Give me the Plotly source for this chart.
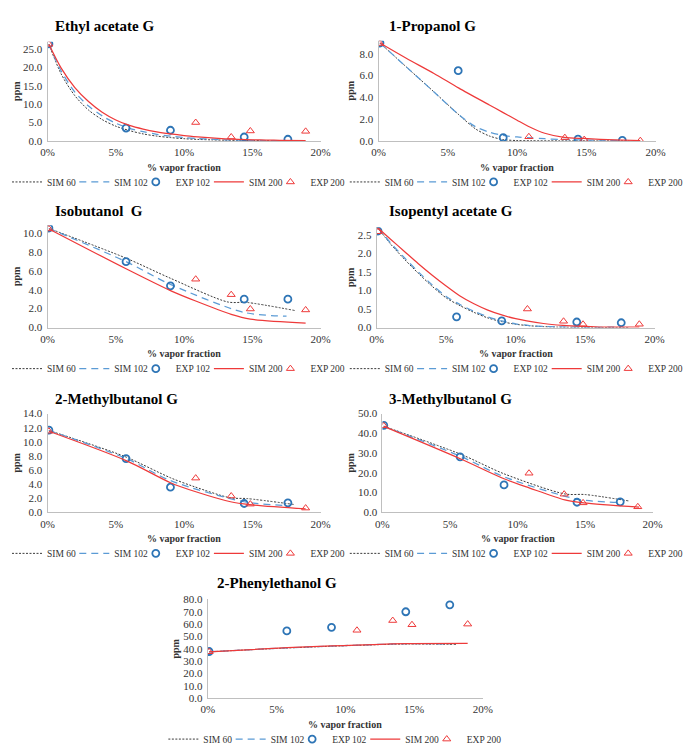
import plotly.graph_objects as go

W, H = 688, 754
FONT = "Liberation Serif"

# ---------------- data ----------------
X_TICKS = [0, 5, 10, 15, 20]
X_TICK_TEXT = ["0%", "5%", "10%", "15%", "20%"]
SERIES_NAMES = ["SIM 60", "SIM 102", "EXP 102", "SIM 200", "EXP 200"]

EXP102_X = [0.1, 5.75, 9.0, 14.4, 17.6]
EXP200_X = [0.1, 10.85, 13.45, 14.85, 18.9]

# Ethyl acetate G
EA_SIM60_X = [0.1, 1, 2, 3, 4, 5, 6, 7, 8, 9, 10, 11, 12, 13, 14, 15, 16, 18.1]
EA_SIM60_Y = [26.3, 18.2, 12.3, 8.4, 5.8, 4.0, 2.8, 1.9, 1.3, 0.9, 0.6, 0.4, 0.28, 0.2, 0.13, 0.09, 0.06, 0.03]
EA_SIM102_X = [0.1, 1, 2, 3, 4, 5, 6, 7, 8, 9, 10, 11, 12, 13, 14, 15, 16, 17.6]
EA_SIM102_Y = [26.3, 19.0, 13.3, 9.5, 6.8, 4.8, 3.4, 2.5, 1.8, 1.3, 0.9, 0.65, 0.45, 0.3, 0.2, 0.15, 0.1, 0.06]
EA_SIM200_X = [0.1, 1, 2, 3, 4, 5, 6, 7, 8, 9, 10, 11, 12, 13, 14, 15, 16, 17, 18.9]
EA_SIM200_Y = [26.3, 19.8, 14.5, 10.7, 7.8, 5.7, 4.2, 3.2, 2.45, 1.9, 1.45, 1.1, 0.8, 0.58, 0.42, 0.3, 0.22, 0.17, 0.1]
EA_EXP102_Y = [26.4, 3.5, 2.9, 1.06, 0.44]
EA_EXP200_Y = [26.3, 5.0, 1.06, 2.7, 2.6]

# 1-Propanol G
PR_SIM60_X = [0.1, 2, 4, 5.8, 7, 8, 9, 10, 11, 13, 15, 18.1]
PR_SIM60_Y = [9.0, 6.8, 4.5, 2.4, 1.1, 0.45, 0.12, 0.03, 0.01, 0.0, 0.0, 0.0]
PR_SIM102_X = [0.1, 2, 4, 5.8, 7, 8, 9, 10, 11, 12, 13, 14.4, 16, 17.6]
PR_SIM102_Y = [9.0, 6.8, 4.5, 2.4, 1.3, 0.8, 0.5, 0.36, 0.28, 0.2, 0.14, 0.1, 0.06, 0.04]
PR_SIM200_X = [0.1, 2, 4, 5.8, 8, 9, 10, 10.8, 12, 13.4, 14.8, 16, 17, 18.9]
PR_SIM200_Y = [9.0, 7.6, 6.2, 4.85, 3.3, 2.6, 1.9, 1.35, 0.7, 0.32, 0.22, 0.15, 0.1, 0.03]
PR_EXP102_Y = [9.0, 6.45, 0.3, 0.17, 0.04]
PR_EXP200_Y = [8.95, 0.38, 0.3, 0.12, 0.02]

# Isobutanol G
IB_SIM60_X = [0.1, 5.7, 9.0, 13.2, 14.6, 18.1]
IB_SIM60_Y = [10.45, 7.35, 5.2, 2.7, 2.65, 1.8]
IB_SIM102_X = [0.1, 5.75, 9.0, 14.4, 17.5]
IB_SIM102_Y = [10.45, 6.95, 4.55, 1.6, 1.2]
IB_SIM200_X = [0.1, 5.75, 9.0, 10.85, 13.45, 14.85, 18.9]
IB_SIM200_Y = [10.4, 6.2, 3.9, 2.8, 1.4, 0.9, 0.48]
IB_EXP102_Y = [10.5, 6.95, 4.4, 3.0, 3.0]
IB_EXP200_Y = [10.4, 5.1, 3.47, 1.96, 1.86]

# Isopentyl acetate G
IP_SIM60_X = [0.1, 1, 2, 3, 4, 5, 6, 7, 8, 9, 10, 11, 12, 13, 15, 18.1]
IP_SIM60_Y = [2.68, 2.25, 1.84, 1.46, 1.11, 0.8, 0.59, 0.41, 0.26, 0.16, 0.09, 0.05, 0.025, 0.012, 0.005, 0.0]
IP_SIM102_X = [0.1, 1, 2, 3, 4, 5, 6, 7, 8, 9, 10, 11, 12, 13, 14.4, 17.6]
IP_SIM102_Y = [2.68, 2.28, 1.88, 1.5, 1.15, 0.84, 0.62, 0.44, 0.29, 0.18, 0.1, 0.055, 0.03, 0.02, 0.01, 0.01]
IP_SIM200_X = [0.1, 1, 2, 3, 4, 5, 6, 7, 8, 9, 10, 10.8, 12, 13.4, 14.8, 16, 18.9]
IP_SIM200_Y = [2.68, 2.38, 2.05, 1.72, 1.41, 1.12, 0.85, 0.64, 0.47, 0.34, 0.24, 0.18, 0.11, 0.06, 0.03, 0.015, 0.01]
IP_EXP102_Y = [2.6, 0.29, 0.18, 0.15, 0.13]
IP_EXP200_Y = [2.58, 0.5, 0.17, 0.09, 0.09]

# 2-Methylbutanol G
MB2_SIM60_X = [0.1, 3, 5.8, 9.0, 10.8, 13.4, 14.6, 18.1]
MB2_SIM60_Y = [11.6, 9.75, 7.8, 4.9, 3.6, 2.05, 1.95, 1.1]
MB2_SIM102_X = [0.1, 5.8, 9.0, 14.4, 17.5]
MB2_SIM102_Y = [11.6, 7.6, 4.5, 1.5, 0.95]
MB2_SIM200_X = [0.1, 5.8, 9.0, 10.8, 13.4, 14.8, 18.9]
MB2_SIM200_Y = [11.5, 7.3, 4.2, 2.95, 1.5, 1.1, 0.5]
MB2_EXP102_Y = [11.65, 7.62, 3.56, 1.25, 1.34]
MB2_EXP200_Y = [11.5, 4.85, 2.31, 1.16, 0.6]

# 3-Methylbutanol G
MB3_SIM60_X = [0.1, 5.8, 9.0, 13.5, 15.0, 18.2]
MB3_SIM60_Y = [43.6, 29.4, 19.5, 9.3, 9.0, 5.8]
MB3_SIM102_X = [0.1, 5.8, 9.0, 14.5, 17.6]
MB3_SIM102_Y = [43.6, 28.3, 18.0, 6.6, 5.0]
MB3_SIM200_X = [0.1, 5.8, 9.0, 10.9, 13.5, 14.9, 19.0]
MB3_SIM200_Y = [43.5, 27.0, 17.0, 12.3, 6.3, 4.8, 2.6]
MB3_EXP102_Y = [44.0, 28.1, 13.9, 5.1, 5.3]
MB3_EXP200_Y = [43.8, 19.8, 9.2, 4.8, 2.8]

# 2-Phenylethanol G
PE_SIM60_X = [0.1, 5.8, 9.0, 13.4, 14.6, 18.1]
PE_SIM60_Y = [37.5, 40.6, 42.0, 43.6, 43.8, 43.5]
PE_SIM102_X = [0.1, 5.8, 9.0, 14.4, 17.6]
PE_SIM102_Y = [37.5, 40.7, 42.1, 44.0, 43.9]
PE_SIM200_X = [0.1, 5.8, 9.0, 10.8, 13.4, 14.8, 18.9]
PE_SIM200_Y = [37.5, 40.8, 42.2, 42.8, 43.8, 44.1, 44.3]
PE_EXP102_Y = [37.7, 54.4, 57.3, 69.9, 75.5]
PE_EXP200_Y = [37.5, 54.9, 62.8, 59.4, 59.9]

TITLES = ["Ethyl acetate G", "1-Propanol G", "Isobutanol  G", "Isopentyl acetate G",
          "2-Methylbutanol G", "3-Methylbutanol G", "2-Phenylethanol G"]
Y_MAX = [27, 9.2, 10.8, 2.7, 14, 50, 80]
Y_DTICK = [5, 2, 2, 0.5, 2, 10, 10]

DATA = [
    (EA_SIM60_X, EA_SIM60_Y, EA_SIM102_X, EA_SIM102_Y, EA_EXP102_Y, EA_SIM200_X, EA_SIM200_Y, EA_EXP200_Y),
    (PR_SIM60_X, PR_SIM60_Y, PR_SIM102_X, PR_SIM102_Y, PR_EXP102_Y, PR_SIM200_X, PR_SIM200_Y, PR_EXP200_Y),
    (IB_SIM60_X, IB_SIM60_Y, IB_SIM102_X, IB_SIM102_Y, IB_EXP102_Y, IB_SIM200_X, IB_SIM200_Y, IB_EXP200_Y),
    (IP_SIM60_X, IP_SIM60_Y, IP_SIM102_X, IP_SIM102_Y, IP_EXP102_Y, IP_SIM200_X, IP_SIM200_Y, IP_EXP200_Y),
    (MB2_SIM60_X, MB2_SIM60_Y, MB2_SIM102_X, MB2_SIM102_Y, MB2_EXP102_Y, MB2_SIM200_X, MB2_SIM200_Y, MB2_EXP200_Y),
    (MB3_SIM60_X, MB3_SIM60_Y, MB3_SIM102_X, MB3_SIM102_Y, MB3_EXP102_Y, MB3_SIM200_X, MB3_SIM200_Y, MB3_EXP200_Y),
    (PE_SIM60_X, PE_SIM60_Y, PE_SIM102_X, PE_SIM102_Y, PE_EXP102_Y, PE_SIM200_X, PE_SIM200_Y, PE_EXP200_Y),
]

# ---------------- layout geometry (pixels) ----------------
# (plot left, plot right, plot top, plot bottom, title x, ppm x, legend origin x)
GEOM = [
    (42, 325, 36.5, 138, 48, 10, 0),
    (385, 672, 35.6, 138, 394, 356, 350),
    (42, 325, 224.2, 329, 48, 10, 0),
    (383, 671, 226.4, 329, 394, 356, 350),
    (42, 325, 417, 518, 48, 10, 0),
    (389, 669, 417, 518, 394, 356, 350),
    (208, 493, 607, 708, 215, 175, 162),
]
TITLE_Y = [20, 20, 210, 210, 402, 402, 590]

C_SIM60 = "#3a3a3a"
C_SIM102 = "#5B9BD5"
C_EXP102 = "#2E75B6"
C_RED = "#EE3A3A"
LEGEND_W = [22.3, 16.5, 28.1, 16.5, 34.6]
LEGEND_FONT = 9.5


def px_x(v):
    return v / W


def px_y(v):
    return 1 - v / H


fig = go.Figure()
annotations = []
layout = dict(width=W, height=H, margin=dict(l=0, r=0, t=0, b=0),
              paper_bgcolor="white", plot_bgcolor="white",
              font=dict(family=FONT, size=11, color="#333333"))

for i in range(7):
    s60x, s60y, s102x, s102y, e102y, s200x, s200y, e200y = DATA[i]
    L, R, T, B, tx, ppx, lgx = GEOM[i]
    n = "" if i == 0 else str(i + 1)
    xa, ya = "x" + n, "y" + n
    lid = "legend" + n
    common = dict(xaxis=xa, yaxis=ya, legend=lid, showlegend=True)
    fig.add_trace(go.Scatter(x=s60x, y=s60y, mode="lines", name=SERIES_NAMES[0],
                             line=dict(color=C_SIM60, width=1, dash="2px,1.5px", shape="spline", smoothing=0.8),
                             legendwidth=LEGEND_W[0], **common))
    fig.add_trace(go.Scatter(x=s102x, y=s102y, mode="lines", name=SERIES_NAMES[1],
                             line=dict(color=C_SIM102, width=1.25, dash="7px,5px", shape="spline", smoothing=0.8),
                             legendwidth=LEGEND_W[1], **common))
    fig.add_trace(go.Scatter(x=EXP102_X, y=e102y, mode="markers", name=SERIES_NAMES[2],
                             marker=dict(symbol="circle-open", size=7, color=C_EXP102, line=dict(width=1.8)),
                             legendwidth=LEGEND_W[2], **common))
    fig.add_trace(go.Scatter(x=s200x, y=s200y, mode="lines", name=SERIES_NAMES[3],
                             line=dict(color=C_RED, width=1.25, shape="spline", smoothing=0.8),
                             legendwidth=LEGEND_W[3], **common))
    fig.add_trace(go.Scatter(x=EXP200_X, y=e200y, mode="markers", name=SERIES_NAMES[4],
                             marker=dict(symbol="triangle-up-open", size=7, color=C_RED, line=dict(width=1)),
                             legendwidth=LEGEND_W[4], **common))

    layout["xaxis" + n] = dict(domain=[px_x(L), px_x(R)], anchor=ya, range=[0, 20],
                               tickvals=X_TICKS, ticktext=X_TICK_TEXT,
                               showline=True, linecolor="#BFBFBF", linewidth=1,
                               showgrid=False, zeroline=False, ticks="outside", ticklen=1,
                               tickcolor="rgba(0,0,0,0)", tickfont=dict(size=11, family=FONT, color="#333333"),
                               fixedrange=True)
    layout["yaxis" + n] = dict(domain=[px_y(B), px_y(T)], anchor=xa, range=[0, Y_MAX[i]],
                               dtick=Y_DTICK[i], tick0=0, tickformat=".1f",
                               showline=True, linecolor="#BFBFBF", linewidth=1,
                               showgrid=False, zeroline=False, ticks="outside", ticklen=2,
                               tickcolor="rgba(0,0,0,0)", tickfont=dict(size=11, family=FONT, color="#333333"),
                               fixedrange=True)
    layout[lid] = dict(orientation="h", x=px_x(lgx), xanchor="left", y=px_y(B + 42), yanchor="middle",
                       font=dict(size=LEGEND_FONT, family=FONT, color="#333333"), bgcolor="rgba(0,0,0,0)",
                       borderwidth=0, itemwidth=30, traceorder="normal")
    annotations.append(dict(text="<b>" + TITLES[i] + "</b>", x=px_x(tx), y=px_y(TITLE_Y[i]),
                            xref="paper", yref="paper", xanchor="left", yanchor="middle",
                            showarrow=False, font=dict(size=15, family=FONT, color="#000000")))
    annotations.append(dict(text="<b>ppm</b>", x=px_x(ppx), y=px_y((T + B) / 2), textangle=-90,
                            xref="paper", yref="paper", xanchor="center", yanchor="middle",
                            showarrow=False, font=dict(size=10, family=FONT, color="#333333")))
    annotations.append(dict(text="<b>% vapor fraction</b>", x=px_x((L + R) / 2), y=px_y(B + 27),
                            xref="paper", yref="paper", xanchor="center", yanchor="middle",
                            showarrow=False, font=dict(size=10, family=FONT, color="#333333")))

layout["annotations"] = annotations
fig.update_layout(**layout)
fig.write_html("out.html")
